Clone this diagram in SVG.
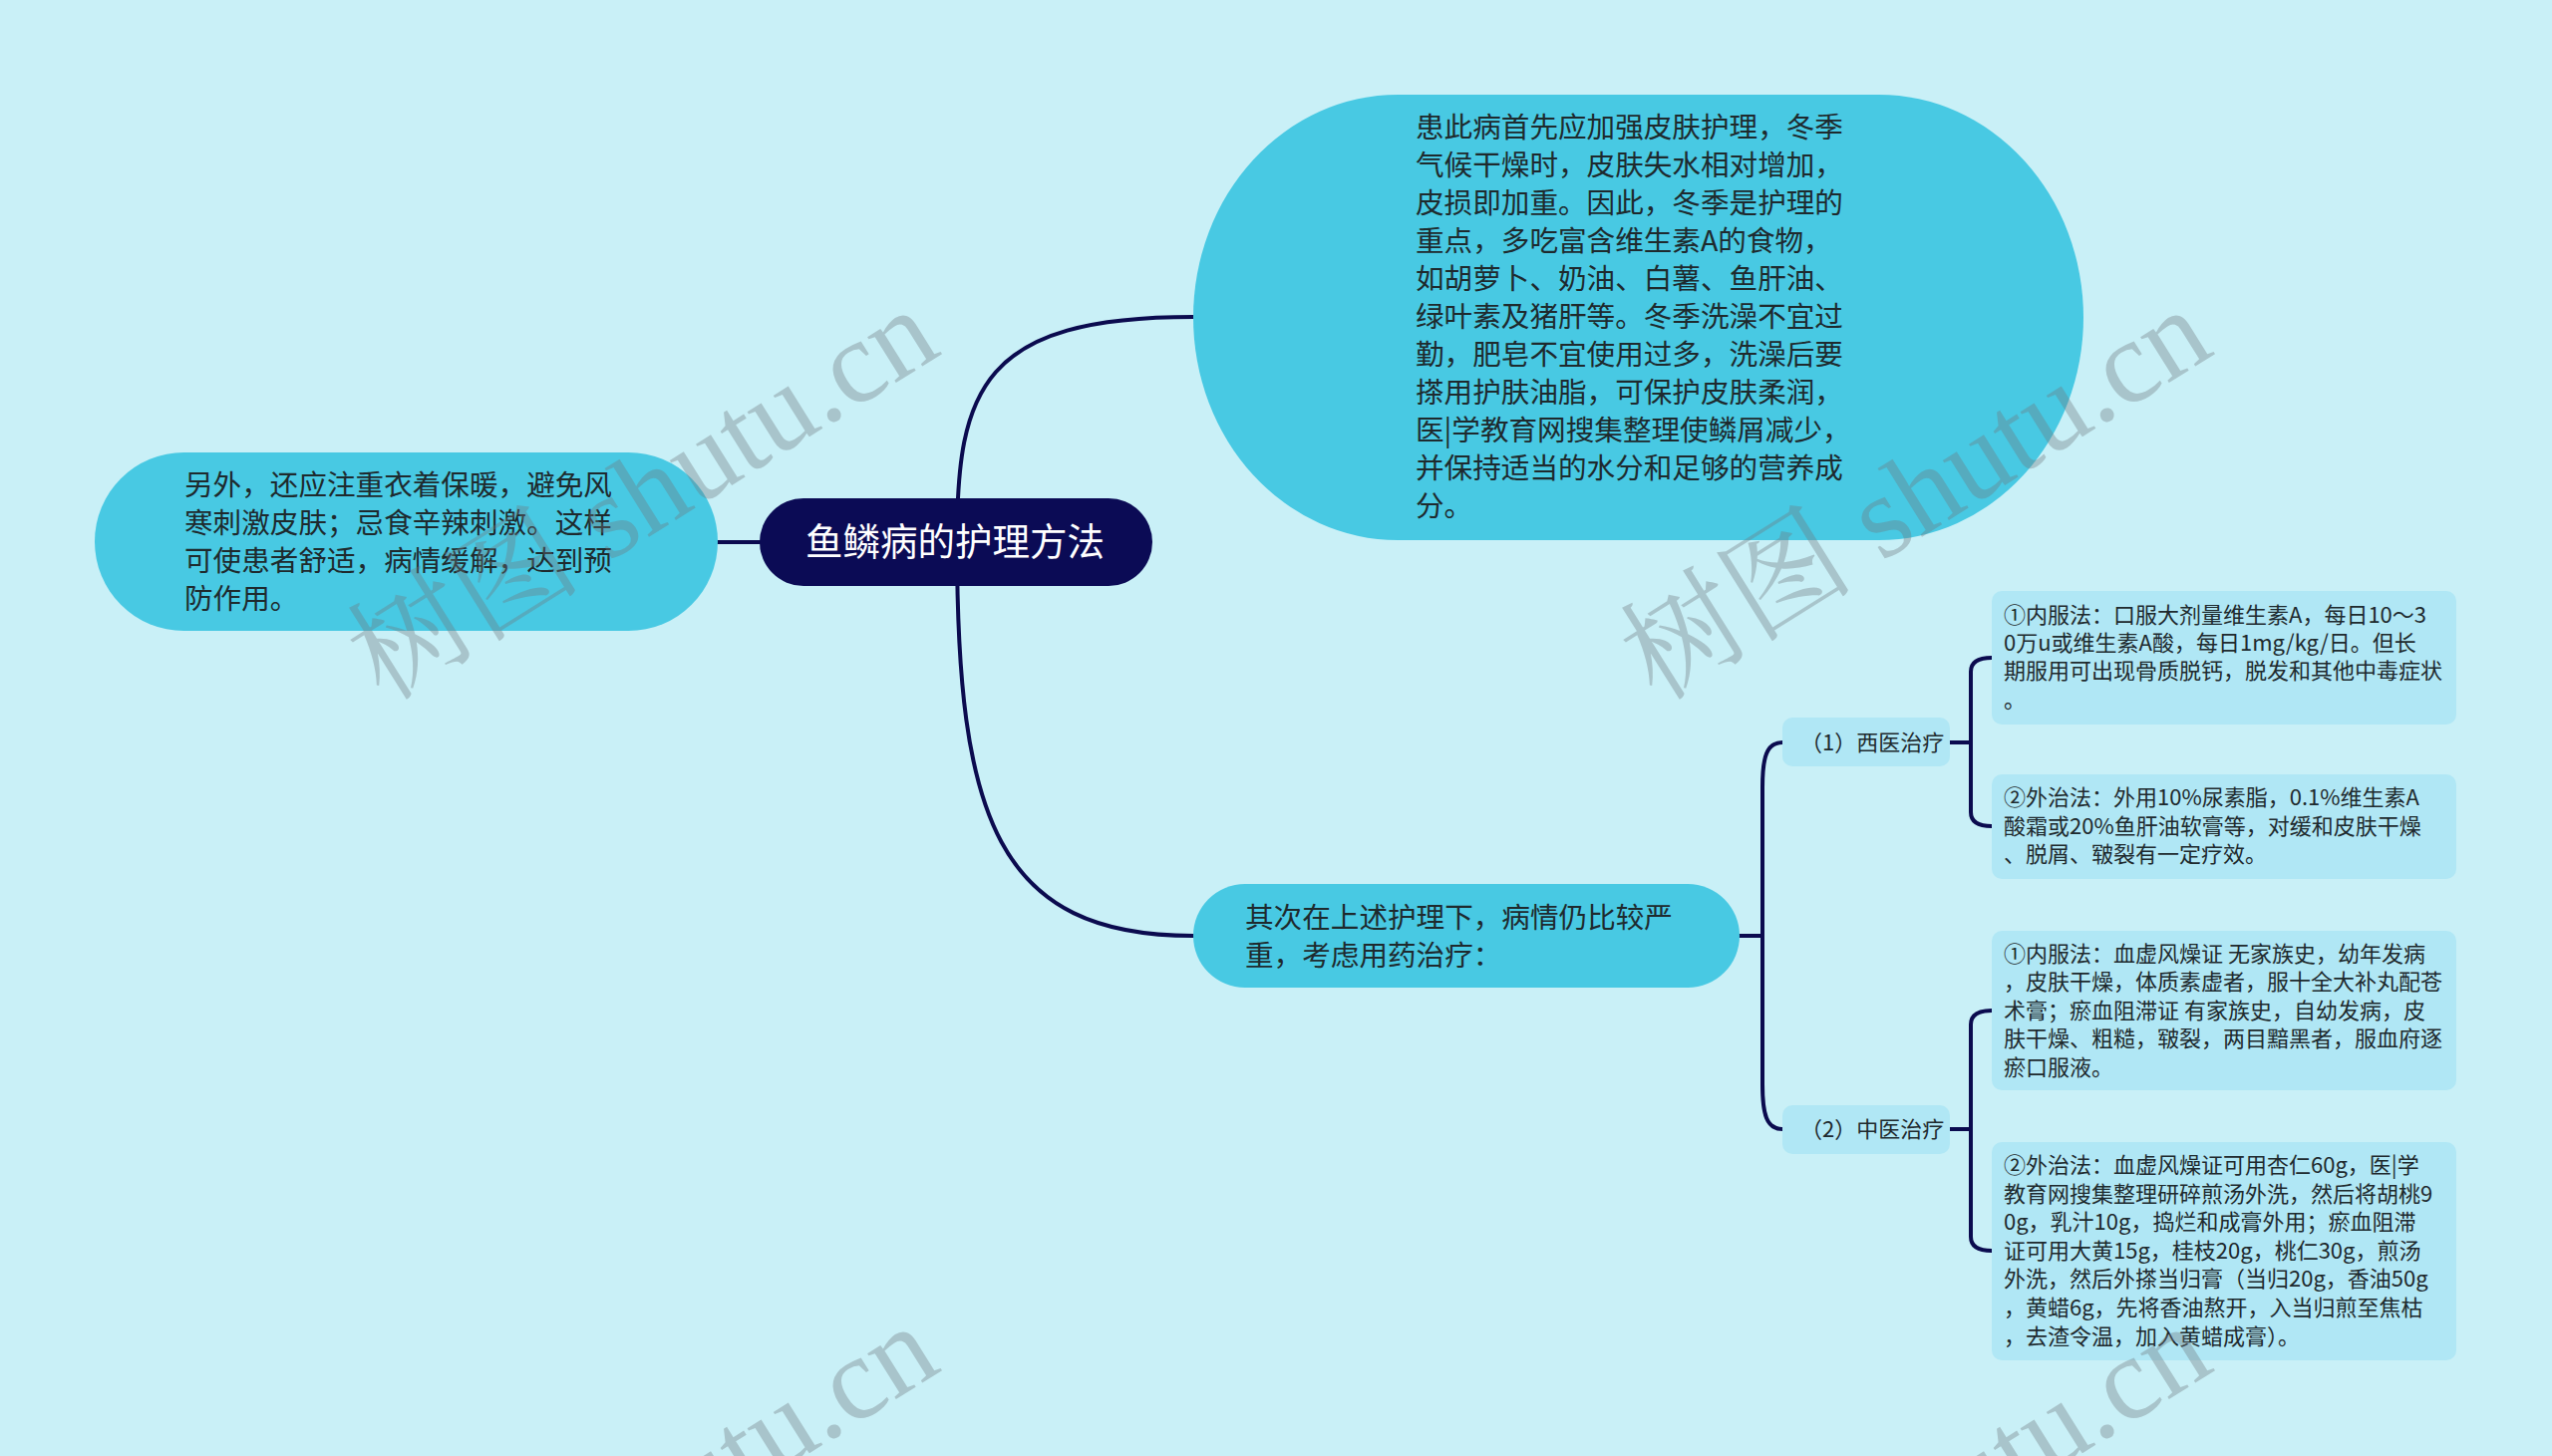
<svg xmlns="http://www.w3.org/2000/svg" width="2560" height="1461" viewBox="0 0 2560 1461">
<style>
.big{fill:#48c9e3}
.small{fill:#b0e7f5}
.root{fill:#0b0b55}
.t{font-family:"Noto Sans CJK SC","Noto Sans",sans-serif;fill:#1e2a2e}
.bt{font-size:28.6px}
.st{font-size:22px}
.rt{font-family:"Noto Sans CJK SC","Noto Sans",sans-serif;font-size:37.5px;fill:#ffffff}
.conn{fill:none;stroke:#0b0b4f;stroke-width:4;stroke-linecap:round}
.wm{font-family:"Liberation Serif","Noto Serif CJK SC","Noto Sans CJK SC",serif;font-size:118px;fill:#6e787d;fill-opacity:0.36}
</style>
<rect width="2560" height="1461" fill="#c9f0f7"/>
<g id="connectors">
<path class="conn" d="M720,544 H762"/>
<path class="conn" d="M960,544 C960,390 985,318 1197,318"/>
<path class="conn" d="M960,544 C960,820 1000,939 1197,939"/>
<path class="conn" d="M1745,939 H1768"/>
<path class="conn" d="M1788,745 C1772,745 1768,760 1768,790 V1088 C1768,1118 1772,1133 1788,1133"/>
<path class="conn" d="M1956,745 H1977"/>
<path class="conn" d="M1998,660 Q1977,660 1977,674 V815 Q1977,829 1998,829"/>
<path class="conn" d="M1956,1133 H1977"/>
<path class="conn" d="M1998,1014 Q1977,1014 1977,1028 V1241 Q1977,1255 1998,1255"/>
</g>
<g id="root">
<rect class="root" x="762" y="500" width="394" height="88" rx="44" ry="44"/>
<text class="rt" x="808" y="557">鱼鳞病的护理方法</text>
</g>
<g id="node-left">
<rect class="big" x="95" y="454" width="625" height="179" rx="89.5" ry="89.5"/>
<text class="t bt" x="185">
<tspan x="185" y="497">另外，还应注重衣着保暖，避免风</tspan>
<tspan x="185" y="535">寒刺激皮肤；忌食辛辣刺激。这样</tspan>
<tspan x="185" y="573">可使患者舒适，病情缓解，达到预</tspan>
<tspan x="185" y="611">防作用。</tspan>
</text>
</g>
<g id="node-top">
<rect class="big" x="1197" y="95" width="893" height="447" rx="205" ry="223.5"/>
<text class="t bt">
<tspan x="1420" y="138">患此病首先应加强皮肤护理，冬季</tspan>
<tspan x="1420" y="176">气候干燥时，皮肤失水相对增加，</tspan>
<tspan x="1420" y="214">皮损即加重。因此，冬季是护理的</tspan>
<tspan x="1420" y="252">重点，多吃富含维生素A的食物，</tspan>
<tspan x="1420" y="290">如胡萝卜、奶油、白薯、鱼肝油、</tspan>
<tspan x="1420" y="328">绿叶素及猪肝等。冬季洗澡不宜过</tspan>
<tspan x="1420" y="366">勤，肥皂不宜使用过多，洗澡后要</tspan>
<tspan x="1420" y="404">搽用护肤油脂，可保护皮肤柔润，</tspan>
<tspan x="1420" y="442">医|学教育网搜集整理使鳞屑减少，</tspan>
<tspan x="1420" y="480">并保持适当的水分和足够的营养成</tspan>
<tspan x="1420" y="518">分。</tspan>
</text>
</g>
<g id="node-mid">
<rect class="big" x="1197" y="887" width="548" height="104" rx="52" ry="52"/>
<text class="t bt">
<tspan x="1249" y="931">其次在上述护理下，病情仍比较严</tspan>
<tspan x="1249" y="969">重，考虑用药治疗：</tspan>
</text>
</g>
<g id="node-west">
<rect class="small" x="1788" y="720" width="168" height="49" rx="10" ry="10"/>
<text class="t st" x="1806" y="753">（1）西医治疗</text>
</g>
<g id="node-chinese">
<rect class="small" x="1788" y="1109" width="168" height="49" rx="10" ry="10"/>
<text class="t st" x="1806" y="1141">（2）中医治疗</text>
</g>
<g id="node-a1">
<rect class="small" x="1998" y="593" width="466" height="134" rx="10" ry="10"/>
<text class="t st">
<tspan x="2010" y="625">①内服法：口服大剂量维生素A，每日10～3</tspan>
<tspan x="2010" y="653">0万u或维生素A酸，每日1mg/kg/日。但长</tspan>
<tspan x="2010" y="681">期服用可出现骨质脱钙，脱发和其他中毒症状</tspan>
<tspan x="2010" y="710">。</tspan>
</text>
</g>
<g id="node-a2">
<rect class="small" x="1998" y="777" width="466" height="105" rx="10" ry="10"/>
<text class="t st">
<tspan x="2010" y="808">②外治法：外用10%尿素脂，0.1%维生素A</tspan>
<tspan x="2010" y="837">酸霜或20%鱼肝油软膏等，对缓和皮肤干燥</tspan>
<tspan x="2010" y="865">、脱屑、皲裂有一定疗效。</tspan>
</text>
</g>
<g id="node-b1">
<rect class="small" x="1998" y="934" width="466" height="160" rx="10" ry="10"/>
<text class="t st">
<tspan x="2010" y="965">①内服法：血虚风燥证 无家族史，幼年发病</tspan>
<tspan x="2010" y="993">，皮肤干燥，体质素虚者，服十全大补丸配苍</tspan>
<tspan x="2010" y="1022">术膏；瘀血阻滞证 有家族史，自幼发病，皮</tspan>
<tspan x="2010" y="1050">肤干燥、粗糙，皲裂，两目黯黑者，服血府逐</tspan>
<tspan x="2010" y="1079">瘀口服液。</tspan>
</text>
</g>
<g id="node-b2">
<rect class="small" x="1998" y="1146" width="466" height="219" rx="10" ry="10"/>
<text class="t st">
<tspan x="2010" y="1177">②外治法：血虚风燥证可用杏仁60g，医|学</tspan>
<tspan x="2010" y="1206">教育网搜集整理研碎煎汤外洗，然后将胡桃9</tspan>
<tspan x="2010" y="1234">0g，乳汁10g，捣烂和成膏外用；瘀血阻滞</tspan>
<tspan x="2010" y="1263">证可用大黄15g，桂枝20g，桃仁30g，煎汤</tspan>
<tspan x="2010" y="1291">外洗，然后外搽当归膏（当归20g，香油50g</tspan>
<tspan x="2010" y="1320">，黄蜡6g，先将香油熬开，入当归煎至焦枯</tspan>
<tspan x="2010" y="1349">，去渣令温，加入黄蜡成膏）。</tspan>
</text>
</g>
<g id="watermarks">
<text class="wm" transform="translate(385,705) rotate(-32)">树图 shutu.cn</text>
<text class="wm" transform="translate(1662,705) rotate(-32)">树图 shutu.cn</text>
<text class="wm" transform="translate(385,1725) rotate(-32)">树图 shutu.cn</text>
<text class="wm" transform="translate(1662,1725) rotate(-32)">树图 shutu.cn</text>
</g>
</svg>
